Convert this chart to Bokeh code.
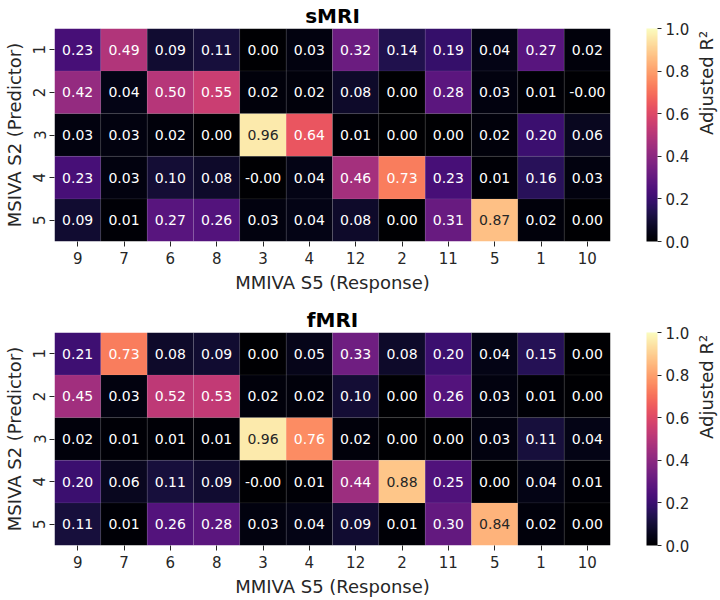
from math import pi
from bokeh.plotting import figure
from bokeh.models import (ColumnDataSource, LinearColorMapper, ColorBar, CategoricalAxis,
                          FixedTicker, PrintfTickFormatter)
from bokeh.palettes import Magma256
from bokeh.layouts import column
from bokeh.core.properties import value
from bokeh.embed import file_html
from bokeh.resources import INLINE

responses = ["9", "7", "6", "8", "3", "4", "12", "2", "11", "5", "1", "10"]
predictors = ["1", "2", "3", "4", "5"]

smri_p1 = [0.23, 0.49, 0.09, 0.11, 0.00, 0.03, 0.32, 0.14, 0.19, 0.04, 0.27, 0.02]
smri_p2 = [0.42, 0.04, 0.50, 0.55, 0.02, 0.02, 0.08, 0.00, 0.28, 0.03, 0.01, -0.0]
smri_p3 = [0.03, 0.03, 0.02, 0.00, 0.96, 0.64, 0.01, 0.00, 0.00, 0.02, 0.20, 0.06]
smri_p4 = [0.23, 0.03, 0.10, 0.08, -0.0, 0.04, 0.46, 0.73, 0.23, 0.01, 0.16, 0.03]
smri_p5 = [0.09, 0.01, 0.27, 0.26, 0.03, 0.04, 0.08, 0.00, 0.31, 0.87, 0.02, 0.00]

fmri_p1 = [0.21, 0.73, 0.08, 0.09, 0.00, 0.05, 0.33, 0.08, 0.20, 0.04, 0.15, 0.00]
fmri_p2 = [0.45, 0.03, 0.52, 0.53, 0.02, 0.02, 0.10, 0.00, 0.26, 0.03, 0.01, 0.00]
fmri_p3 = [0.02, 0.01, 0.01, 0.01, 0.96, 0.76, 0.02, 0.00, 0.00, 0.03, 0.11, 0.04]
fmri_p4 = [0.20, 0.06, 0.11, 0.09, -0.0, 0.01, 0.44, 0.88, 0.25, 0.00, 0.04, 0.01]
fmri_p5 = [0.11, 0.01, 0.26, 0.28, 0.03, 0.04, 0.09, 0.01, 0.30, 0.84, 0.02, 0.00]

cbar_ticks = [0.0, 0.2, 0.4, 0.6, 0.8, 1.0]

FONT = "DejaVu Sans"
DARK = "#262626"
FW, FH = 556, 213


def heatmap(title, rows, border_bottom):
    xs, ys, vals, labels, tcol = [], [], [], [], []
    for pred, row in zip(predictors, rows):
        for resp, v in zip(responses, row):
            xs.append(resp)
            ys.append(pred)
            vals.append(v)
            labels.append(f"{v:.2f}")
            tcol.append(DARK if v > 0.8 else "white")
    src = ColumnDataSource(dict(x=xs, y=ys, v=vals, t=labels, c=tcol))
    mapper = LinearColorMapper(palette=Magma256, low=0, high=1)

    p = figure(x_range=responses, y_range=list(reversed(predictors)),
               frame_width=FW, frame_height=FH, output_backend="svg",
               toolbar_location=None, min_border_top=0, min_border_left=0,
               min_border_right=0, min_border_bottom=border_bottom,
               title=title)
    p.title.align = "center"
    p.title.text_font = FONT
    p.title.text_font_size = "20px"
    p.title.text_font_style = "bold"
    p.title.text_color = "black"
    p.title.standoff = 2

    p.rect(x="x", y="y", width=1, height=1, source=src,
           fill_color={"field": "v", "transform": mapper},
           line_color="white", line_alpha=0.06, line_width=1)
    p.text(x="x", y="y", text="t", source=src, text_color="c",
           text_align="center", text_baseline="middle",
           text_font=value(FONT), text_font_size=value("14px"))

    p.outline_line_color = None
    p.grid.grid_line_color = None
    for ax in (p.xaxis[0], p.yaxis[0]):
        ax.axis_line_color = None
        ax.major_tick_in = 0
        ax.major_tick_out = 5
        ax.major_tick_line_color = DARK
        ax.major_label_text_font = FONT
        ax.major_label_text_font_size = "15px"
        ax.major_label_text_color = DARK
        ax.axis_label_text_font = FONT
        ax.axis_label_text_font_size = "18px"
        ax.axis_label_text_font_style = "normal"
        ax.axis_label_text_color = DARK
        ax.major_label_standoff = 5
        ax.axis_label_standoff = 5
    p.xaxis.axis_label = "MMIVA S5 (Response)"
    p.yaxis.axis_label = "MSIVA S2 (Predictor)"
    p.yaxis.major_label_orientation = "vertical"
    p.yaxis.major_label_standoff = 4
    p.yaxis.axis_label_standoff = 6

    cb = ColorBar(color_mapper=mapper, ticker=FixedTicker(ticks=cbar_ticks),
                  formatter=PrintfTickFormatter(format="%.1f"),
                  width=11, height=FH, location=(36, 0), padding=0, margin=0,
                  major_tick_in=0, major_tick_out=4, major_tick_line_color=DARK,
                  bar_line_color=None, border_line_color=None,
                  background_fill_color=None, label_standoff=4,
                  major_label_text_font=FONT, major_label_text_font_size="15px",
                  major_label_text_color=DARK)
    p.add_layout(cb, "right")

    cb_axis = CategoricalAxis(axis_label="Adjusted R²", axis_line_color=None,
                              ticker=FixedTicker(ticks=[]),
                              major_tick_line_color=None, minor_tick_line_color=None,
                              axis_label_text_font=FONT, axis_label_text_font_size="18px",
                              axis_label_text_font_style="normal",
                              axis_label_text_align="center",
                              axis_label_text_color=DARK, axis_label_standoff=14,
                              axis_label_orientation=pi / 2)
    p.add_layout(cb_axis, "right")
    return p


p1 = heatmap("sMRI", [smri_p1, smri_p2, smri_p3, smri_p4, smri_p5], 63)
p2 = heatmap("fMRI", [fmri_p1, fmri_p2, fmri_p3, fmri_p4, fmri_p5], 40)

layout = column(p1, p2, spacing=0)
open("out.html", "w").write(file_html(layout, INLINE))
